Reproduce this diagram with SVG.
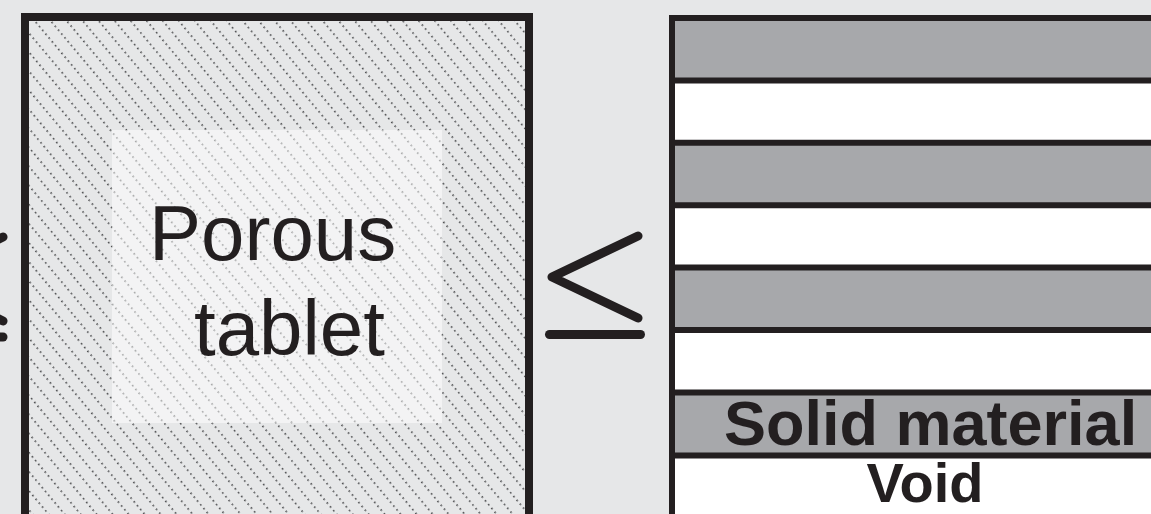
<svg xmlns="http://www.w3.org/2000/svg" width="1151" height="514" viewBox="0 0 1151 514">
<style>
.ink{stroke:#231f20;fill:none}
.sym{stroke:#231f20;stroke-width:9;fill:none;stroke-linecap:round;stroke-linejoin:round}
.band{fill:#a7a8ab}
.void{fill:#ffffff}
.sep{stroke:#231f20;stroke-width:6}
.lbl{font-family:"Liberation Sans",Arial,sans-serif;fill:#231f20}
</style>
<defs>
<pattern id="hatch" patternUnits="userSpaceOnUse" width="12.26" height="5" patternTransform="rotate(-40)">
<rect x="0" y="0" width="1.8" height="1.5" fill="#4f5052"/>
</pattern>
</defs>
<rect width="1151" height="514" fill="#e6e7e8"/>
<g id="prev-symbol">
<path class="sym" d="M 3 237 L -82 279 L 3 321"/>
<line class="sym" x1="-85" y1="337" x2="3" y2="337"/>
</g>
<g id="porous-tablet">
<rect x="25" y="17" width="504" height="520" fill="#e6e7e8"/>
<rect x="25" y="17" width="504" height="520" fill="url(#hatch)"/>
<rect x="112" y="130" width="330" height="293" fill="#ffffff" fill-opacity="0.5"/>
<rect class="ink" x="25" y="17" width="504" height="520" stroke-width="8"/>
<text class="lbl" x="149" y="260" font-size="78">Porous</text>
<text class="lbl" x="194" y="355" font-size="78">tablet</text>
</g>
<g id="leq-symbol">
<path class="sym" d="M 638 236 L 552 277 L 638 318"/>
<line class="sym" x1="549.5" y1="334.5" x2="640.5" y2="334.5"/>
</g>
<g id="layers">
<rect class="band" x="672" y="18" width="490" height="62.4"/>
<rect class="void" x="672" y="80.4" width="490" height="62.4"/>
<rect class="band" x="672" y="142.8" width="490" height="62.4"/>
<rect class="void" x="672" y="205.2" width="490" height="62.4"/>
<rect class="band" x="672" y="267.6" width="490" height="62.4"/>
<rect class="void" x="672" y="330" width="490" height="62.4"/>
<rect class="band" x="672" y="392.4" width="490" height="62.4"/>
<rect class="void" x="672" y="454.8" width="490" height="70"/>
<line class="sep" x1="669" y1="18" x2="1151" y2="18"/>
<line class="sep" x1="669" y1="80.4" x2="1151" y2="80.4"/>
<line class="sep" x1="669" y1="142.8" x2="1151" y2="142.8"/>
<line class="sep" x1="669" y1="205.2" x2="1151" y2="205.2"/>
<line class="sep" x1="669" y1="267.6" x2="1151" y2="267.6"/>
<line class="sep" x1="669" y1="330" x2="1151" y2="330"/>
<line class="sep" x1="669" y1="392.4" x2="1151" y2="392.4"/>
<line class="sep" x1="669" y1="455.5" x2="1151" y2="455.5"/>
<line class="sep" x1="672" y1="15" x2="672" y2="514"/>
<text class="lbl" x="724" y="445" font-size="63" font-weight="bold">Solid material</text>
<text class="lbl" x="925" y="502" font-size="56" font-weight="bold" text-anchor="middle">Void</text>
</g>
</svg>
